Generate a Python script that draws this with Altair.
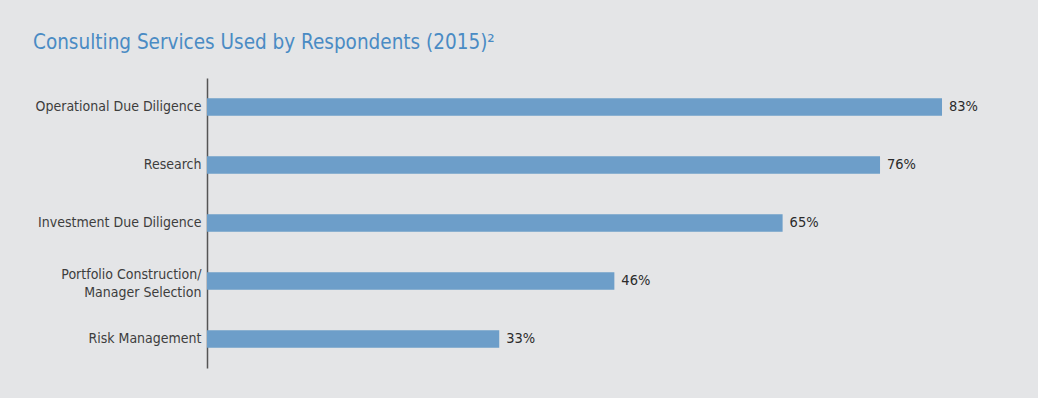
import altair as alt
import pandas as pd

categories = [
    "Operational Due Diligence",
    "Research",
    "Investment Due Diligence",
    "Portfolio Construction/ Manager Selection",
    "Risk Management",
]
values = [83, 76, 65, 46, 33]

df = pd.DataFrame({"service": categories, "pct": values})

FONT = "Liberation Sans Narrow, DejaVu Sans Condensed, Roboto, sans-serif"
TWO_LINE = "Portfolio Construction/ Manager Selection"

y_enc = alt.Y(
    "service:N",
    sort=categories,
    title=None,
    scale=alt.Scale(paddingInner=0.7, paddingOuter=0.35),
    axis=alt.Axis(
        ticks=False,
        domainColor="#555555",
        domainWidth=1.5,
        labelColor="#3d3d3d",
        labelFont=FONT,
        labelFontSize=14,
        labelPadding=6,
        labelLineHeight=18,
        labelLimit=300,
        labelOffset={"condition": {"test": f"datum.value == '{TWO_LINE}'", "value": -6}, "value": 0},
        labelExpr=f"datum.label == '{TWO_LINE}' ? ['Portfolio Construction/', 'Manager Selection'] : datum.label",
    ),
)
x_enc = alt.X("pct:Q", scale=alt.Scale(domain=[0, 90]), axis=None)

bars = alt.Chart(df).mark_bar(color="#6d9ec9").encode(x=x_enc, y=y_enc)
labels = (
    alt.Chart(df)
    .transform_calculate(lbl="datum.pct + '%'")
    .mark_text(align="left", baseline="middle", dx=7, font=FONT, fontSize=14.5, color="#2b2b2b")
    .encode(x=x_enc, y=y_enc, text="lbl:N")
)

chart = (
    (bars + labels)
    .properties(
        width=797,
        height=290,
        background="#e4e5e7",
        padding={"left": 207, "top": 78, "right": 34, "bottom": 30},
        autosize=alt.AutoSizeParams(type="none"),
        title=alt.TitleParams(
            "Consulting Services Used by Respondents (2015)²",
            anchor="start",
            frame="group",
            dx=-174,
            offset=9,
            baseline="alphabetic",
            font=FONT,
            fontSize=20.5,
            fontWeight="normal",
            color="#4a8bc4",
        ),
    )
    .configure_view(stroke=None)
)

chart.save("out.html", embed_options={"renderer": "svg", "actions": False})
